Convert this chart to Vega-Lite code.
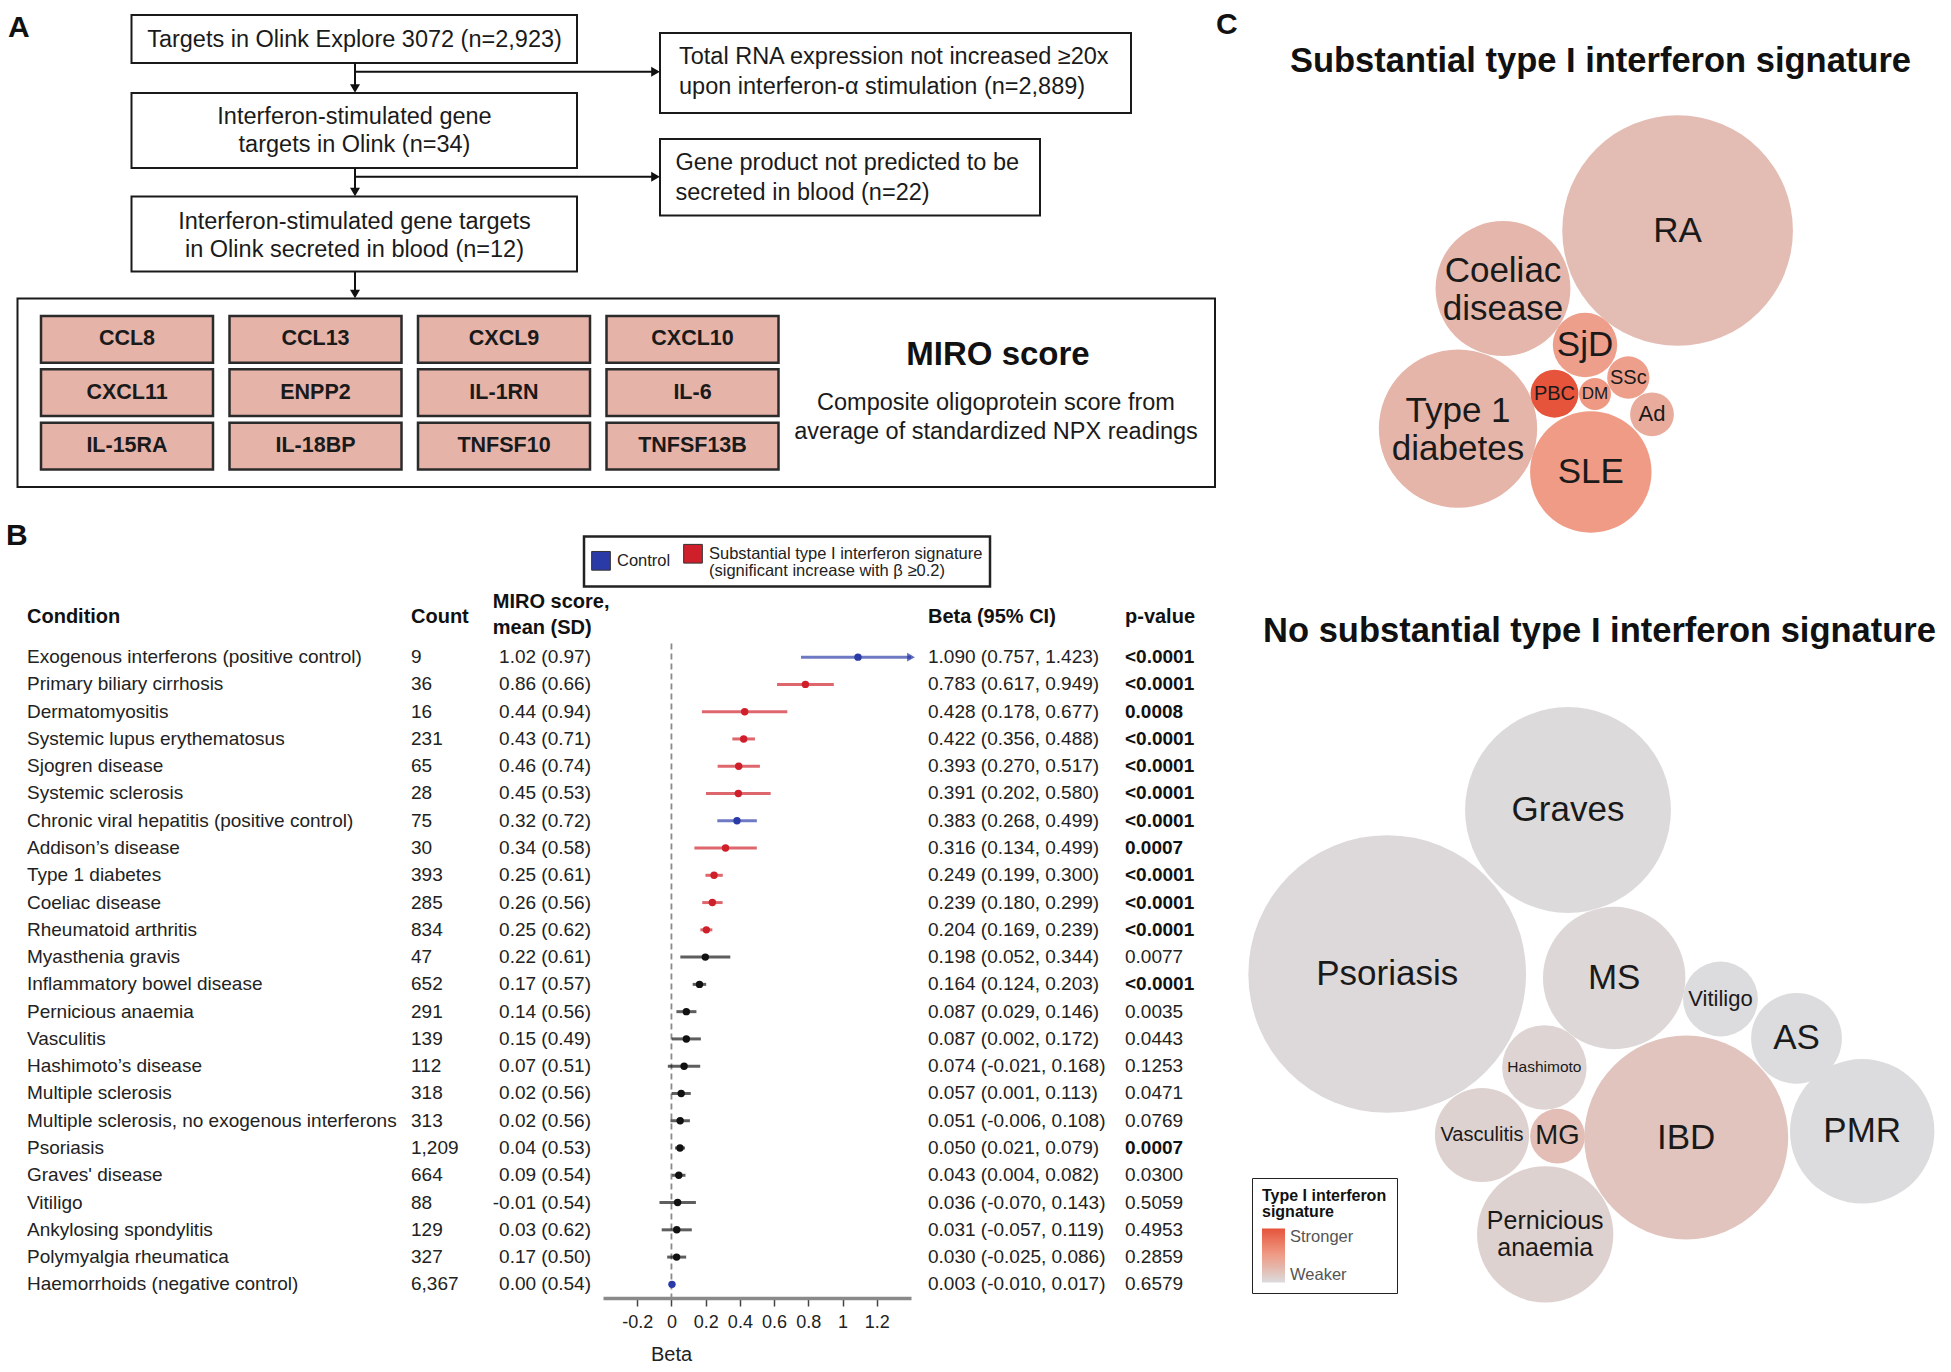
{
  "$schema": "https://vega.github.io/schema/vega-lite/v6.json",
  "background": "white",
  "padding": 0,
  "config": {"view": {"stroke": null}, "font": "Liberation Sans"},
  "spacing": 0,
  "resolve": {"scale": {"color": "independent", "size": "independent", "x": "independent", "y": "independent", "shape": "independent"}, "legend": {"color": "independent", "size": "independent", "shape": "independent"}},
  "hconcat": [
    {
      "bounds": "flush",
      "spacing": 83.5,
      "resolve": {"scale": {"color": "independent", "x": "independent", "y": "independent", "shape": "independent"}, "legend": {"color": "independent", "shape": "independent"}},
      "vconcat": [
        {
          "width": 1216,
          "height": 560,
          "data": {"values": [
            {"kind": "box", "x0": 1.75, "x1": 121.5, "y0": 29.85, "y1": 48.7},
            {"kind": "box", "x0": 13.15, "x1": 57.7, "y0": 1.5, "y1": 6.3},
            {"kind": "box", "x0": 13.15, "x1": 57.7, "y0": 9.3, "y1": 16.8},
            {"kind": "box", "x0": 13.15, "x1": 57.7, "y0": 19.65, "y1": 27.15},
            {"kind": "box", "x0": 66.0, "x1": 113.1, "y0": 3.3, "y1": 11.3},
            {"kind": "box", "x0": 66.0, "x1": 104.0, "y0": 13.9, "y1": 21.55},
            {"kind": "gene", "label": "CCL8", "x0": 4.1, "x1": 21.3, "y0": 31.6, "y1": 36.27, "tx": 12.7, "ty": 33.93},
            {"kind": "gene", "label": "CCL13", "x0": 22.95, "x1": 40.15, "y0": 31.6, "y1": 36.27, "tx": 31.55, "ty": 33.93},
            {"kind": "gene", "label": "CXCL9", "x0": 41.8, "x1": 59.0, "y0": 31.6, "y1": 36.27, "tx": 50.4, "ty": 33.93},
            {"kind": "gene", "label": "CXCL10", "x0": 60.65, "x1": 77.85, "y0": 31.6, "y1": 36.27, "tx": 69.25, "ty": 33.93},
            {"kind": "gene", "label": "CXCL11", "x0": 4.1, "x1": 21.3, "y0": 36.93, "y1": 41.6, "tx": 12.7, "ty": 39.27},
            {"kind": "gene", "label": "ENPP2", "x0": 22.95, "x1": 40.15, "y0": 36.93, "y1": 41.6, "tx": 31.55, "ty": 39.27},
            {"kind": "gene", "label": "IL-1RN", "x0": 41.8, "x1": 59.0, "y0": 36.93, "y1": 41.6, "tx": 50.4, "ty": 39.27},
            {"kind": "gene", "label": "IL-6", "x0": 60.65, "x1": 77.85, "y0": 36.93, "y1": 41.6, "tx": 69.25, "ty": 39.27},
            {"kind": "gene", "label": "IL-15RA", "x0": 4.1, "x1": 21.3, "y0": 42.27, "y1": 46.94, "tx": 12.7, "ty": 44.6},
            {"kind": "gene", "label": "IL-18BP", "x0": 22.95, "x1": 40.15, "y0": 42.27, "y1": 46.94, "tx": 31.55, "ty": 44.6},
            {"kind": "gene", "label": "TNFSF10", "x0": 41.8, "x1": 59.0, "y0": 42.27, "y1": 46.94, "tx": 50.4, "ty": 44.6},
            {"kind": "gene", "label": "TNFSF13B", "x0": 60.65, "x1": 77.85, "y0": 42.27, "y1": 46.94, "tx": 69.25, "ty": 44.6},
            {"kind": "line", "x0": 35.5, "x1": 35.5, "y0": 6.3, "y1": 9.0},
            {"kind": "line", "x0": 35.5, "x1": 65.6, "y0": 7.17, "y1": 7.17},
            {"kind": "line", "x0": 35.5, "x1": 35.5, "y0": 16.8, "y1": 19.35},
            {"kind": "line", "x0": 35.5, "x1": 65.6, "y0": 17.67, "y1": 17.67},
            {"kind": "line", "x0": 35.5, "x1": 35.5, "y0": 27.15, "y1": 29.55},
            {"kind": "head", "tx": 35.5, "ty": 8.85, "dir": "down"},
            {"kind": "head", "tx": 65.55, "ty": 7.17, "dir": "right"},
            {"kind": "head", "tx": 35.5, "ty": 19.2, "dir": "down"},
            {"kind": "head", "tx": 65.55, "ty": 17.67, "dir": "right"},
            {"kind": "head", "tx": 35.5, "ty": 29.4, "dir": "down"},
            {"kind": "ctext", "label": "Targets in Olink Explore 3072 (n=2,923)", "tx": 35.45, "ty": 3.95},
            {"kind": "ctext", "label": "Interferon-stimulated gene\ntargets in Olink (n=34)", "tx": 35.45, "ty": 11.67},
            {"kind": "ctext", "label": "Interferon-stimulated gene targets\nin Olink secreted in blood (n=12)", "tx": 35.45, "ty": 22.17},
            {"kind": "ctext", "label": "Composite oligoprotein score from\naverage of standardized NPX readings", "tx": 99.6, "ty": 40.3},
            {"kind": "ltext", "label": "Total RNA expression not increased ≥20x\nupon interferon-α stimulation (n=2,889)", "tx": 67.9, "ty": 5.73},
            {"kind": "ltext", "label": "Gene product not predicted to be\nsecreted in blood (n=22)", "tx": 67.55, "ty": 16.33},
            {"kind": "heading", "label": "MIRO score", "tx": 99.8, "ty": 35.5},
            {"kind": "letter", "label": "A", "tx": 0.8, "ty": 2.8},
            {"kind": "letter", "label": "B", "tx": 0.6, "ty": 53.6}
          ]},
          "layer": [
            {
              "transform": [{"filter": "datum.kind === 'box'"}],
              "mark": {"type": "rect", "fill": "white", "stroke": "#1a1a1a", "strokeWidth": 2},
              "encoding": {
                "x": {"field": "x0", "type": "quantitative", "scale": {"domain": [0, 121.6], "nice": false, "zero": false}, "axis": null},
                "x2": {"field": "x1"},
                "y": {"field": "y0", "type": "quantitative", "scale": {"domain": [0, 56], "nice": false, "zero": false, "reverse": true}, "axis": null},
                "y2": {"field": "y1"}
              }
            },
            {
              "transform": [{"filter": "datum.kind === 'gene'"}],
              "mark": {"type": "rect", "fill": "#e6b3a8", "stroke": "#2b2b2b", "strokeWidth": 2.5},
              "encoding": {
                "x": {"field": "x0", "type": "quantitative", "scale": {"domain": [0, 121.6], "nice": false, "zero": false}, "axis": null},
                "x2": {"field": "x1"},
                "y": {"field": "y0", "type": "quantitative", "scale": {"domain": [0, 56], "nice": false, "zero": false, "reverse": true}, "axis": null},
                "y2": {"field": "y1"}
              }
            },
            {
              "transform": [{"filter": "datum.kind === 'line'"}],
              "mark": {"type": "rule", "color": "#111", "strokeWidth": 2},
              "encoding": {
                "x": {"field": "x0", "type": "quantitative", "scale": {"domain": [0, 121.6], "nice": false, "zero": false}, "axis": null},
                "x2": {"field": "x1"},
                "y": {"field": "y0", "type": "quantitative", "scale": {"domain": [0, 56], "nice": false, "zero": false, "reverse": true}, "axis": null},
                "y2": {"field": "y1"}
              }
            },
            {
              "transform": [{"filter": "datum.kind === 'head'"}],
              "mark": {"type": "point", "filled": true, "size": 100, "color": "#111", "opacity": 1},
              "encoding": {
                "x": {"field": "tx", "type": "quantitative", "scale": {"domain": [0, 121.6], "nice": false, "zero": false}, "axis": null},
                "y": {"field": "ty", "type": "quantitative", "scale": {"domain": [0, 56], "nice": false, "zero": false, "reverse": true}, "axis": null},
                "shape": {"field": "dir", "type": "nominal", "scale": {"domain": ["down", "right"], "range": ["triangle-down", "triangle-right"]}, "legend": null}
              }
            },
            {
              "transform": [{"filter": "datum.kind === 'ctext'"}],
              "mark": {"type": "text", "align": "center", "baseline": "middle", "fontSize": 23.5, "lineBreak": "\n", "lineHeight": 28.5, "color": "#1a1a1a"},
              "encoding": {
                "x": {"field": "tx", "type": "quantitative", "scale": {"domain": [0, 121.6], "nice": false, "zero": false}, "axis": null},
                "y": {"field": "ty", "type": "quantitative", "scale": {"domain": [0, 56], "nice": false, "zero": false, "reverse": true}, "axis": null},
                "text": {"field": "label"}
              }
            },
            {
              "transform": [{"filter": "datum.kind === 'ltext'"}],
              "mark": {"type": "text", "align": "left", "baseline": "middle", "fontSize": 23.5, "lineBreak": "\n", "lineHeight": 29.5, "color": "#1a1a1a"},
              "encoding": {
                "x": {"field": "tx", "type": "quantitative", "scale": {"domain": [0, 121.6], "nice": false, "zero": false}, "axis": null},
                "y": {"field": "ty", "type": "quantitative", "scale": {"domain": [0, 56], "nice": false, "zero": false, "reverse": true}, "axis": null},
                "text": {"field": "label"}
              }
            },
            {
              "transform": [{"filter": "datum.kind === 'gene'"}],
              "mark": {"type": "text", "align": "center", "baseline": "middle", "fontSize": 21.5, "fontWeight": "bold", "color": "#1a1a1a"},
              "encoding": {
                "x": {"field": "tx", "type": "quantitative", "scale": {"domain": [0, 121.6], "nice": false, "zero": false}, "axis": null},
                "y": {"field": "ty", "type": "quantitative", "scale": {"domain": [0, 56], "nice": false, "zero": false, "reverse": true}, "axis": null},
                "text": {"field": "label"}
              }
            },
            {
              "transform": [{"filter": "datum.kind === 'heading'"}],
              "mark": {"type": "text", "align": "center", "baseline": "middle", "fontSize": 33, "fontWeight": "bold", "color": "#111"},
              "encoding": {
                "x": {"field": "tx", "type": "quantitative", "scale": {"domain": [0, 121.6], "nice": false, "zero": false}, "axis": null},
                "y": {"field": "ty", "type": "quantitative", "scale": {"domain": [0, 56], "nice": false, "zero": false, "reverse": true}, "axis": null},
                "text": {"field": "label"}
              }
            },
            {
              "transform": [{"filter": "datum.kind === 'letter'"}],
              "mark": {"type": "text", "align": "left", "baseline": "middle", "fontSize": 30, "fontWeight": "bold", "color": "#111"},
              "encoding": {
                "x": {"field": "tx", "type": "quantitative", "scale": {"domain": [0, 121.6], "nice": false, "zero": false}, "axis": null},
                "y": {"field": "ty", "type": "quantitative", "scale": {"domain": [0, 56], "nice": false, "zero": false, "reverse": true}, "axis": null},
                "text": {"field": "label"}
              }
            }
          ]
        },
        {
          "bounds": "flush",
          "spacing": 0,
          "resolve": {"scale": {"color": "independent", "x": "independent", "y": "independent"}, "legend": {"color": "independent"}},
          "data": {"values": [
            {"condition": "Exogenous interferons (positive control)", "count": 9, "msd": "1.02 (0.97)", "beta": 1.090, "lo": 0.757, "hi": 1.423, "ci": "1.090 (0.757, 1.423)", "p": "<0.0001", "group": "Control"},
            {"condition": "Primary biliary cirrhosis", "count": 36, "msd": "0.86 (0.66)", "beta": 0.783, "lo": 0.617, "hi": 0.949, "ci": "0.783 (0.617, 0.949)", "p": "<0.0001", "group": "Substantial"},
            {"condition": "Dermatomyositis", "count": 16, "msd": "0.44 (0.94)", "beta": 0.428, "lo": 0.178, "hi": 0.677, "ci": "0.428 (0.178, 0.677)", "p": "0.0008", "group": "Substantial"},
            {"condition": "Systemic lupus erythematosus", "count": 231, "msd": "0.43 (0.71)", "beta": 0.422, "lo": 0.356, "hi": 0.488, "ci": "0.422 (0.356, 0.488)", "p": "<0.0001", "group": "Substantial"},
            {"condition": "Sjogren disease", "count": 65, "msd": "0.46 (0.74)", "beta": 0.393, "lo": 0.270, "hi": 0.517, "ci": "0.393 (0.270, 0.517)", "p": "<0.0001", "group": "Substantial"},
            {"condition": "Systemic sclerosis", "count": 28, "msd": "0.45 (0.53)", "beta": 0.391, "lo": 0.202, "hi": 0.580, "ci": "0.391 (0.202, 0.580)", "p": "<0.0001", "group": "Substantial"},
            {"condition": "Chronic viral hepatitis (positive control)", "count": 75, "msd": "0.32 (0.72)", "beta": 0.383, "lo": 0.268, "hi": 0.499, "ci": "0.383 (0.268, 0.499)", "p": "<0.0001", "group": "Control"},
            {"condition": "Addison’s disease", "count": 30, "msd": "0.34 (0.58)", "beta": 0.316, "lo": 0.134, "hi": 0.499, "ci": "0.316 (0.134, 0.499)", "p": "0.0007", "group": "Substantial"},
            {"condition": "Type 1 diabetes", "count": 393, "msd": "0.25 (0.61)", "beta": 0.249, "lo": 0.199, "hi": 0.300, "ci": "0.249 (0.199, 0.300)", "p": "<0.0001", "group": "Substantial"},
            {"condition": "Coeliac disease", "count": 285, "msd": "0.26 (0.56)", "beta": 0.239, "lo": 0.180, "hi": 0.299, "ci": "0.239 (0.180, 0.299)", "p": "<0.0001", "group": "Substantial"},
            {"condition": "Rheumatoid arthritis", "count": 834, "msd": "0.25 (0.62)", "beta": 0.204, "lo": 0.169, "hi": 0.239, "ci": "0.204 (0.169, 0.239)", "p": "<0.0001", "group": "Substantial"},
            {"condition": "Myasthenia gravis", "count": 47, "msd": "0.22 (0.61)", "beta": 0.198, "lo": 0.052, "hi": 0.344, "ci": "0.198 (0.052, 0.344)", "p": "0.0077", "group": "Other"},
            {"condition": "Inflammatory bowel disease", "count": 652, "msd": "0.17 (0.57)", "beta": 0.164, "lo": 0.124, "hi": 0.203, "ci": "0.164 (0.124, 0.203)", "p": "<0.0001", "group": "Other"},
            {"condition": "Pernicious anaemia", "count": 291, "msd": "0.14 (0.56)", "beta": 0.087, "lo": 0.029, "hi": 0.146, "ci": "0.087 (0.029, 0.146)", "p": "0.0035", "group": "Other"},
            {"condition": "Vasculitis", "count": 139, "msd": "0.15 (0.49)", "beta": 0.087, "lo": 0.002, "hi": 0.172, "ci": "0.087 (0.002, 0.172)", "p": "0.0443", "group": "Other"},
            {"condition": "Hashimoto’s disease", "count": 112, "msd": "0.07 (0.51)", "beta": 0.074, "lo": -0.021, "hi": 0.168, "ci": "0.074 (-0.021, 0.168)", "p": "0.1253", "group": "Other"},
            {"condition": "Multiple sclerosis", "count": 318, "msd": "0.02 (0.56)", "beta": 0.057, "lo": 0.001, "hi": 0.113, "ci": "0.057 (0.001, 0.113)", "p": "0.0471", "group": "Other"},
            {"condition": "Multiple sclerosis, no exogenous interferons", "count": 313, "msd": "0.02 (0.56)", "beta": 0.051, "lo": -0.006, "hi": 0.108, "ci": "0.051 (-0.006, 0.108)", "p": "0.0769", "group": "Other"},
            {"condition": "Psoriasis", "count": 1209, "msd": "0.04 (0.53)", "beta": 0.050, "lo": 0.021, "hi": 0.079, "ci": "0.050 (0.021, 0.079)", "p": "0.0007", "group": "Other"},
            {"condition": "Graves' disease", "count": 664, "msd": "0.09 (0.54)", "beta": 0.043, "lo": 0.004, "hi": 0.082, "ci": "0.043 (0.004, 0.082)", "p": "0.0300", "group": "Other"},
            {"condition": "Vitiligo", "count": 88, "msd": "-0.01 (0.54)", "beta": 0.036, "lo": -0.070, "hi": 0.143, "ci": "0.036 (-0.070, 0.143)", "p": "0.5059", "group": "Other"},
            {"condition": "Ankylosing spondylitis", "count": 129, "msd": "0.03 (0.62)", "beta": 0.031, "lo": -0.057, "hi": 0.119, "ci": "0.031 (-0.057, 0.119)", "p": "0.4953", "group": "Other"},
            {"condition": "Polymyalgia rheumatica", "count": 327, "msd": "0.17 (0.50)", "beta": 0.030, "lo": -0.025, "hi": 0.086, "ci": "0.030 (-0.025, 0.086)", "p": "0.2859", "group": "Other"},
            {"condition": "Haemorrhoids (negative control)", "count": 6367, "msd": "0.00 (0.54)", "beta": 0.003, "lo": -0.010, "hi": 0.017, "ci": "0.003 (-0.010, 0.017)", "p": "0.6579", "group": "Control"}
          ]},
          "hconcat": [
            {
              "width": 411,
              "height": 654.5,
              "title": {"text": "Condition", "anchor": "start", "dx": 27, "dy": 19.5, "fontSize": 20, "fontWeight": "bold", "color": "#111", "offset": 16, "baseline": "bottom"},
              "mark": {"type": "text", "align": "left", "baseline": "middle", "fontSize": 19, "color": "#222", "dx": 27},
              "encoding": {
                "y": {"field": "condition", "type": "nominal", "sort": null, "axis": null},
                "x": {"value": 0},
                "text": {"field": "condition"}
              }
            },
            {
              "width": 84,
              "height": 654.5,
              "title": {"text": "Count", "anchor": "start", "dy": 19.5, "fontSize": 20, "fontWeight": "bold", "color": "#111", "offset": 16, "baseline": "bottom"},
              "mark": {"type": "text", "align": "left", "baseline": "middle", "fontSize": 19, "color": "#222"},
              "encoding": {
                "y": {"field": "condition", "type": "nominal", "sort": null, "axis": null},
                "x": {"value": 0},
                "text": {"field": "count", "type": "quantitative", "format": ","}
              }
            },
            {
              "width": 108,
              "height": 654.5,
              "title": {"text": ["MIRO score,", "mean (SD)"], "anchor": "start", "dy": 19.5, "fontSize": 20, "fontWeight": "bold", "color": "#111", "offset": 5, "baseline": "bottom", "lineHeight": 26},
              "mark": {"type": "text", "align": "right", "baseline": "middle", "fontSize": 19, "color": "#222", "dx": -12},
              "encoding": {
                "y": {"field": "condition", "type": "nominal", "sort": null, "axis": null},
                "x": {"value": "width"},
                "text": {"field": "msd"}
              }
            },
            {
              "width": 308,
              "height": 654.5,
              "layer": [
                {
                  "data": {"values": [{"ref": 0}]},
                  "mark": {"type": "rule", "strokeDash": [6, 4], "color": "#8a8a8a", "strokeWidth": 1.8},
                  "encoding": {
                    "x": {"field": "ref", "type": "quantitative", "scale": {"domain": [-0.4, 1.4], "nice": false, "zero": false, "clamp": true},
                      "axis": {"values": [-0.2, 0, 0.2, 0.4, 0.6, 0.8, 1, 1.2], "labelExpr": "replace(format(datum.value, '~g'), '−', '-')", "title": "Beta", "titleX": 68, "titleFontSize": 20, "titleFontWeight": "normal", "titleColor": "#222", "titlePadding": 13, "labelFontSize": 18, "labelColor": "#222", "labelPadding": 7, "tickSize": 8, "tickColor": "#444", "tickWidth": 1.5, "domainColor": "#8a8a8a", "domainWidth": 3.5, "grid": false, "labelFlush": false, "labelOverlap": false}}
                  }
                },
                {
                  "mark": {"type": "rule", "strokeWidth": 3, "opacity": 0.68},
                  "encoding": {
                    "y": {"field": "condition", "type": "nominal", "sort": null, "axis": null},
                    "x": {"field": "lo", "type": "quantitative", "scale": {"domain": [-0.4, 1.4], "nice": false, "zero": false, "clamp": true},
                      "axis": {"values": [-0.2, 0, 0.2, 0.4, 0.6, 0.8, 1, 1.2], "labelExpr": "replace(format(datum.value, '~g'), '−', '-')", "title": "Beta", "titleX": 68, "titleFontSize": 20, "titleFontWeight": "normal", "titleColor": "#222", "titlePadding": 13, "labelFontSize": 18, "labelColor": "#222", "labelPadding": 7, "tickSize": 8, "tickColor": "#444", "tickWidth": 1.5, "domainColor": "#8a8a8a", "domainWidth": 3.5, "grid": false, "labelFlush": false, "labelOverlap": false}},
                    "x2": {"field": "hi"},
                    "color": {"condition": [{"test": "datum.group === 'Control'", "value": "#2a3aa6"}, {"test": "datum.group === 'Substantial'", "value": "#cf1f2a"}], "value": "#111111"}
                  }
                },
                {
                  "mark": {"type": "point", "shape": "triangle-right", "filled": true, "size": 80, "strokeWidth": 0},
                  "encoding": {
                    "y": {"field": "condition", "type": "nominal", "sort": null, "axis": null},
                    "x": {"field": "hi", "type": "quantitative", "scale": {"domain": [-0.4, 1.4], "nice": false, "zero": false, "clamp": true},
                      "axis": {"values": [-0.2, 0, 0.2, 0.4, 0.6, 0.8, 1, 1.2], "labelExpr": "replace(format(datum.value, '~g'), '−', '-')", "title": "Beta", "titleX": 68, "titleFontSize": 20, "titleFontWeight": "normal", "titleColor": "#222", "titlePadding": 13, "labelFontSize": 18, "labelColor": "#222", "labelPadding": 7, "tickSize": 8, "tickColor": "#444", "tickWidth": 1.5, "domainColor": "#8a8a8a", "domainWidth": 3.5, "grid": false, "labelFlush": false, "labelOverlap": false}},
                    "color": {"condition": [{"test": "datum.group === 'Control'", "value": "#2a3aa6"}, {"test": "datum.group === 'Substantial'", "value": "#cf1f2a"}], "value": "#111111"},
                    "opacity": {"condition": {"test": "datum.hi > 1.4", "value": 0.75}, "value": 0}
                  }
                },
                {
                  "mark": {"type": "circle", "size": 55, "opacity": 1},
                  "encoding": {
                    "y": {"field": "condition", "type": "nominal", "sort": null, "axis": null},
                    "x": {"field": "beta", "type": "quantitative", "scale": {"domain": [-0.4, 1.4], "nice": false, "zero": false, "clamp": true},
                      "axis": {"values": [-0.2, 0, 0.2, 0.4, 0.6, 0.8, 1, 1.2], "labelExpr": "replace(format(datum.value, '~g'), '−', '-')", "title": "Beta", "titleX": 68, "titleFontSize": 20, "titleFontWeight": "normal", "titleColor": "#222", "titlePadding": 13, "labelFontSize": 18, "labelColor": "#222", "labelPadding": 7, "tickSize": 8, "tickColor": "#444", "tickWidth": 1.5, "domainColor": "#8a8a8a", "domainWidth": 3.5, "grid": false, "labelFlush": false, "labelOverlap": false}},
                    "color": {"field": "group", "type": "nominal", "scale": {"domain": ["Control", "Substantial", "Other"], "range": ["#2a3aa6", "#cf1f2a", "#111111"]},
                      "legend": {"orient": "none", "legendX": -19, "legendY": -107, "direction": "horizontal", "values": ["Control", "Substantial"], "title": null,
                        "symbolType": "square", "symbolSize": 350, "symbolStrokeColor": "#333", "symbolStrokeWidth": 1, "symbolOpacity": 1,
                        "labelFontSize": 16.5, "labelColor": "#222", "labelLimit": 500, "labelOffset": 6, "columnPadding": 10,
                        "labelExpr": "datum.value === 'Control' ? 'Control' : ['Substantial type I interferon signature', '(significant increase with β ≥0.2)']",
                        "strokeColor": "#222", "padding": 7,
                        "encode": {"legend": {"update": {"strokeWidth": {"value": 2.5}}}, "labels": {"update": {"lineHeight": {"value": 17}}}}}}
                  }
                }
              ]
            },
            {
              "width": 214,
              "height": 654.5,
              "title": {"text": "Beta (95% CI)", "anchor": "start", "dx": 17, "dy": 19.5, "fontSize": 20, "fontWeight": "bold", "color": "#111", "offset": 16, "baseline": "bottom"},
              "mark": {"type": "text", "align": "left", "baseline": "middle", "fontSize": 19, "color": "#222", "dx": 17},
              "encoding": {
                "y": {"field": "condition", "type": "nominal", "sort": null, "axis": null},
                "x": {"value": 0},
                "text": {"field": "ci"}
              }
            },
            {
              "width": 91,
              "height": 654.5,
              "title": {"text": "p-value", "anchor": "start", "dy": 19.5, "fontSize": 20, "fontWeight": "bold", "color": "#111", "offset": 16, "baseline": "bottom"},
              "layer": [
                {
                  "mark": {"type": "text", "align": "left", "baseline": "middle", "fontSize": 19, "fontWeight": "bold", "color": "#111"},
                  "encoding": {
                    "y": {"field": "condition", "type": "nominal", "sort": null, "axis": null},
                    "x": {"value": 0},
                    "text": {"condition": {"test": "datum.p === '<0.0001' || toNumber(datum.p) < 0.001", "field": "p", "type": "nominal"}, "value": ""}
                  }
                },
                {
                  "mark": {"type": "text", "align": "left", "baseline": "middle", "fontSize": 19, "color": "#222"},
                  "encoding": {
                    "y": {"field": "condition", "type": "nominal", "sort": null, "axis": null},
                    "x": {"value": 0},
                    "text": {"condition": {"test": "!(datum.p === '<0.0001' || toNumber(datum.p) < 0.001)", "field": "p", "type": "nominal"}, "value": ""}
                  }
                }
              ]
            }
          ]
        }
      ]
    },
    {
      "bounds": "flush",
      "spacing": 0,
      "resolve": {"scale": {"color": "independent", "size": "independent", "x": "independent", "y": "independent"}, "legend": {"color": "independent", "size": "independent"}},
      "vconcat": [
        {
          "width": 735,
          "height": 570,
          "data": {"values": [
            {"label": "RA", "count": 834, "beta": 0.204, "px": 46.16, "py": 23.05},
            {"label": "Coeliac\ndisease", "count": 285, "beta": 0.239, "px": 28.7, "py": 28.85},
            {"label": "Type 1\ndiabetes", "count": 393, "beta": 0.249, "px": 24.2, "py": 42.86},
            {"label": "SLE", "count": 231, "beta": 0.422, "px": 37.48, "py": 47.2},
            {"label": "SjD", "count": 65, "beta": 0.393, "px": 36.9, "py": 34.5},
            {"label": "PBC", "count": 36, "beta": 0.783, "px": 33.85, "py": 39.37},
            {"label": "DM", "count": 16, "beta": 0.428, "px": 37.9, "py": 39.4},
            {"label": "SSc", "count": 28, "beta": 0.391, "px": 41.23, "py": 37.75},
            {"label": "Ad", "count": 30, "beta": 0.316, "px": 43.6, "py": 41.43}
          ]},
          "layer": [
            {
              "mark": {"type": "circle", "opacity": 1},
              "encoding": {
                "x": {"field": "px", "type": "quantitative", "scale": {"domain": [0, 73.5], "nice": false, "zero": false}, "axis": null},
                "y": {"field": "py", "type": "quantitative", "scale": {"domain": [0, 57], "nice": false, "zero": false, "reverse": true}, "axis": null},
                "size": {"field": "count", "type": "quantitative", "scale": {"type": "linear", "domain": [0, 1000], "range": [0, 63800]}, "legend": null},
                "color": {"field": "beta", "type": "quantitative", "scale": {"type": "linear", "domain": [0.03, 0.25, 0.42, 0.783], "range": ["#dcdcde", "#e5b5a9", "#ef9b86", "#e6543b"], "interpolate": "rgb", "clamp": true}, "legend": null}
              }
            },
            {
              "transform": [{"filter": {"field": "label", "oneOf": ["RA", "SLE", "SjD"]}}],
              "mark": {"type": "text", "fontSize": 35, "align": "center", "baseline": "middle", "color": "#1a1a1a"},
              "encoding": {
                "x": {"field": "px", "type": "quantitative", "scale": {"domain": [0, 73.5], "nice": false, "zero": false}, "axis": null},
                "y": {"field": "py", "type": "quantitative", "scale": {"domain": [0, 57], "nice": false, "zero": false, "reverse": true}, "axis": null},
                "text": {"field": "label"}
              }
            },
            {
              "transform": [{"filter": {"field": "label", "oneOf": ["Coeliac\ndisease", "Type 1\ndiabetes"]}}],
              "mark": {"type": "text", "fontSize": 35, "lineBreak": "\n", "lineHeight": 38, "dy": -18, "align": "center", "baseline": "middle", "color": "#1a1a1a"},
              "encoding": {
                "x": {"field": "px", "type": "quantitative", "scale": {"domain": [0, 73.5], "nice": false, "zero": false}, "axis": null},
                "y": {"field": "py", "type": "quantitative", "scale": {"domain": [0, 57], "nice": false, "zero": false, "reverse": true}, "axis": null},
                "text": {"field": "label"}
              }
            },
            {
              "transform": [{"filter": {"field": "label", "oneOf": ["Ad"]}}],
              "mark": {"type": "text", "fontSize": 22, "align": "center", "baseline": "middle", "color": "#1a1a1a"},
              "encoding": {
                "x": {"field": "px", "type": "quantitative", "scale": {"domain": [0, 73.5], "nice": false, "zero": false}, "axis": null},
                "y": {"field": "py", "type": "quantitative", "scale": {"domain": [0, 57], "nice": false, "zero": false, "reverse": true}, "axis": null},
                "text": {"field": "label"}
              }
            },
            {
              "transform": [{"filter": {"field": "label", "oneOf": ["PBC", "SSc"]}}],
              "mark": {"type": "text", "fontSize": 20, "align": "center", "baseline": "middle", "color": "#1a1a1a"},
              "encoding": {
                "x": {"field": "px", "type": "quantitative", "scale": {"domain": [0, 73.5], "nice": false, "zero": false}, "axis": null},
                "y": {"field": "py", "type": "quantitative", "scale": {"domain": [0, 57], "nice": false, "zero": false, "reverse": true}, "axis": null},
                "text": {"field": "label"}
              }
            },
            {
              "transform": [{"filter": {"field": "label", "oneOf": ["DM"]}}],
              "mark": {"type": "text", "fontSize": 17, "align": "center", "baseline": "middle", "color": "#1a1a1a"},
              "encoding": {
                "x": {"field": "px", "type": "quantitative", "scale": {"domain": [0, 73.5], "nice": false, "zero": false}, "axis": null},
                "y": {"field": "py", "type": "quantitative", "scale": {"domain": [0, 57], "nice": false, "zero": false, "reverse": true}, "axis": null},
                "text": {"field": "label"}
              }
            },
            {
              "data": {"values": [{"t": "Substantial type I interferon signature"}]},
              "mark": {"type": "text", "fontSize": 34.5, "fontWeight": "bold", "align": "center", "baseline": "middle", "color": "#111"},
              "encoding": {
                "x": {"datum": 38.45, "type": "quantitative", "scale": {"domain": [0, 73.5], "nice": false, "zero": false}, "axis": null},
                "y": {"datum": 6.2, "type": "quantitative", "scale": {"domain": [0, 57], "nice": false, "zero": false, "reverse": true}, "axis": null},
                "text": {"field": "t"}
              }
            },
            {
              "data": {"values": [{"t": "C"}]},
              "mark": {"type": "text", "fontSize": 30, "fontWeight": "bold", "align": "left", "baseline": "middle", "color": "#111"},
              "encoding": {
                "x": {"datum": 0, "type": "quantitative", "scale": {"domain": [0, 73.5], "nice": false, "zero": false}, "axis": null},
                "y": {"datum": 2.5, "type": "quantitative", "scale": {"domain": [0, 57], "nice": false, "zero": false, "reverse": true}, "axis": null},
                "text": {"field": "t"}
              }
            }
          ]
        },
        {
          "width": 735,
          "height": 802,
          "data": {"values": [
            {"label": "Graves", "count": 664, "beta": 0.043, "px": 35.2, "py": 24.0},
            {"label": "Psoriasis", "count": 1209, "beta": 0.050, "px": 17.12, "py": 40.4},
            {"label": "MS", "count": 318, "beta": 0.057, "px": 39.82, "py": 40.8},
            {"label": "Vitiligo", "count": 88, "beta": 0.036, "px": 50.45, "py": 42.9},
            {"label": "AS", "count": 129, "beta": 0.031, "px": 58.05, "py": 46.84},
            {"label": "Hashimoto", "count": 112, "beta": 0.074, "px": 32.84, "py": 49.74},
            {"label": "IBD", "count": 652, "beta": 0.164, "px": 47.02, "py": 56.75},
            {"label": "PMR", "count": 327, "beta": 0.030, "px": 64.62, "py": 56.13},
            {"label": "Vasculitis", "count": 139, "beta": 0.087, "px": 26.6, "py": 56.5},
            {"label": "MG", "count": 47, "beta": 0.198, "px": 34.15, "py": 56.62},
            {"label": "Pernicious\nanaemia", "count": 291, "beta": 0.087, "px": 32.92, "py": 66.44}
          ]},
          "layer": [
            {
              "mark": {"type": "circle", "opacity": 1},
              "encoding": {
                "x": {"field": "px", "type": "quantitative", "scale": {"domain": [0, 73.5], "nice": false, "zero": false}, "axis": null},
                "y": {"field": "py", "type": "quantitative", "scale": {"domain": [0, 80.2], "nice": false, "zero": false, "reverse": true}, "axis": null},
                "size": {"field": "count", "type": "quantitative", "scale": {"type": "linear", "domain": [0, 1000], "range": [0, 63800]}, "legend": null},
                "color": {"field": "beta", "type": "quantitative", "scale": {"type": "linear", "domain": [0.03, 0.25, 0.42, 0.783], "range": ["#dcdcde", "#e5b5a9", "#ef9b86", "#e6543b"], "interpolate": "rgb", "clamp": true},
                  "legend": {"orient": "none", "legendX": 36, "legendY": 608, "direction": "vertical", "title": ["Type I interferon", "signature"], "titleFontSize": 16, "titleFontWeight": "bold", "titleColor": "#111", "titleLineHeight": 15.5, "titlePadding": 9, "titleLimit": 300,
                    "gradientLength": 54, "gradientThickness": 23, "gradientStrokeWidth": 0, "values": [0.03, 0.783], "labelExpr": "datum.value > 0.4 ? 'Stronger' : 'Weaker'", "labelFontSize": 16.5, "labelColor": "#555", "labelOffset": 5,
                    "strokeColor": "#222", "padding": 10, "encode": {"legend": {"update": {"strokeWidth": {"value": 2.5}}}}}}
              }
            },
            {
              "transform": [{"filter": {"field": "label", "oneOf": ["Graves", "Psoriasis", "MS", "IBD", "PMR", "AS"]}}],
              "mark": {"type": "text", "fontSize": 35, "align": "center", "baseline": "middle", "color": "#1a1a1a"},
              "encoding": {
                "x": {"field": "px", "type": "quantitative", "scale": {"domain": [0, 73.5], "nice": false, "zero": false}, "axis": null},
                "y": {"field": "py", "type": "quantitative", "scale": {"domain": [0, 80.2], "nice": false, "zero": false, "reverse": true}, "axis": null},
                "text": {"field": "label"}
              }
            },
            {
              "transform": [{"filter": {"field": "label", "oneOf": ["MG"]}}],
              "mark": {"type": "text", "fontSize": 27.5, "align": "center", "baseline": "middle", "color": "#1a1a1a"},
              "encoding": {
                "x": {"field": "px", "type": "quantitative", "scale": {"domain": [0, 73.5], "nice": false, "zero": false}, "axis": null},
                "y": {"field": "py", "type": "quantitative", "scale": {"domain": [0, 80.2], "nice": false, "zero": false, "reverse": true}, "axis": null},
                "text": {"field": "label"}
              }
            },
            {
              "transform": [{"filter": {"field": "label", "oneOf": ["Pernicious\nanaemia"]}}],
              "mark": {"type": "text", "fontSize": 25, "lineBreak": "\n", "lineHeight": 27, "dy": -13.5, "align": "center", "baseline": "middle", "color": "#1a1a1a"},
              "encoding": {
                "x": {"field": "px", "type": "quantitative", "scale": {"domain": [0, 73.5], "nice": false, "zero": false}, "axis": null},
                "y": {"field": "py", "type": "quantitative", "scale": {"domain": [0, 80.2], "nice": false, "zero": false, "reverse": true}, "axis": null},
                "text": {"field": "label"}
              }
            },
            {
              "transform": [{"filter": {"field": "label", "oneOf": ["Vitiligo"]}}],
              "mark": {"type": "text", "fontSize": 22, "align": "center", "baseline": "middle", "color": "#1a1a1a"},
              "encoding": {
                "x": {"field": "px", "type": "quantitative", "scale": {"domain": [0, 73.5], "nice": false, "zero": false}, "axis": null},
                "y": {"field": "py", "type": "quantitative", "scale": {"domain": [0, 80.2], "nice": false, "zero": false, "reverse": true}, "axis": null},
                "text": {"field": "label"}
              }
            },
            {
              "transform": [{"filter": {"field": "label", "oneOf": ["Vasculitis"]}}],
              "mark": {"type": "text", "fontSize": 20, "align": "center", "baseline": "middle", "color": "#1a1a1a"},
              "encoding": {
                "x": {"field": "px", "type": "quantitative", "scale": {"domain": [0, 73.5], "nice": false, "zero": false}, "axis": null},
                "y": {"field": "py", "type": "quantitative", "scale": {"domain": [0, 80.2], "nice": false, "zero": false, "reverse": true}, "axis": null},
                "text": {"field": "label"}
              }
            },
            {
              "transform": [{"filter": {"field": "label", "oneOf": ["Hashimoto"]}}],
              "mark": {"type": "text", "fontSize": 15.5, "align": "center", "baseline": "middle", "color": "#1a1a1a"},
              "encoding": {
                "x": {"field": "px", "type": "quantitative", "scale": {"domain": [0, 73.5], "nice": false, "zero": false}, "axis": null},
                "y": {"field": "py", "type": "quantitative", "scale": {"domain": [0, 80.2], "nice": false, "zero": false, "reverse": true}, "axis": null},
                "text": {"field": "label"}
              }
            },
            {
              "data": {"values": [{"t": "No substantial type I interferon signature"}]},
              "mark": {"type": "text", "fontSize": 34.5, "fontWeight": "bold", "align": "center", "baseline": "middle", "color": "#111"},
              "encoding": {
                "x": {"datum": 38.35, "type": "quantitative", "scale": {"domain": [0, 73.5], "nice": false, "zero": false}, "axis": null},
                "y": {"datum": 6.2, "type": "quantitative", "scale": {"domain": [0, 80.2], "nice": false, "zero": false, "reverse": true}, "axis": null},
                "text": {"field": "t"}
              }
            }
          ]
        }
      ]
    }
  ]
}
